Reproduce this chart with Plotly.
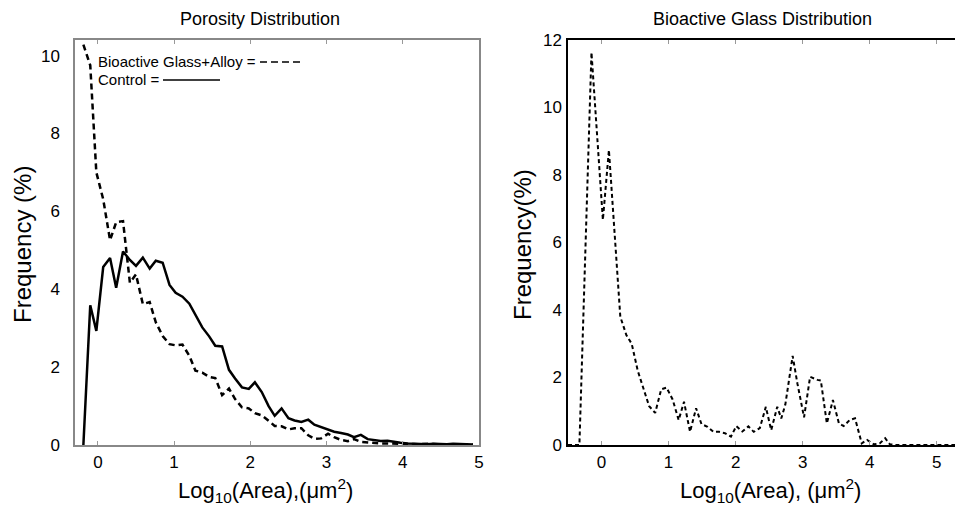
import plotly.graph_objects as go

# ---------------- data ----------------
log_area = [-0.19, -0.10, -0.02, 0.07, 0.16, 0.24, 0.33, 0.42, 0.50, 0.59,
            0.68, 0.76, 0.85, 0.94, 1.02, 1.11, 1.20, 1.28, 1.37, 1.46,
            1.54, 1.63, 1.72, 1.80, 1.89, 1.98, 2.06, 2.15, 2.24, 2.32,
            2.41, 2.50, 2.58, 2.67, 2.76, 2.84, 2.93, 3.02, 3.10, 3.19,
            3.28, 3.36, 3.45, 3.54, 3.62, 3.71, 3.80, 3.88, 3.97, 4.06,
            4.14, 4.23, 4.32, 4.40, 4.49, 4.58, 4.66, 4.75, 4.84, 4.92]

control = [0.00, 3.59, 2.93, 4.57, 4.80, 4.04, 4.97, 4.75, 4.60, 4.81,
           4.53, 4.73, 4.68, 4.11, 3.91, 3.81, 3.63, 3.33, 3.02, 2.79,
           2.55, 2.53, 1.93, 1.71, 1.48, 1.44, 1.61, 1.36, 1.00, 0.75,
           0.94, 0.69, 0.63, 0.59, 0.65, 0.52, 0.46, 0.38, 0.34, 0.31,
           0.27, 0.20, 0.26, 0.15, 0.12, 0.10, 0.11, 0.08, 0.06, 0.04,
           0.03, 0.03, 0.02, 0.03, 0.02, 0.02, 0.03, 0.02, 0.01, 0.01]

glass_alloy = [10.28, 9.75, 7.00, 6.31, 5.26, 5.72, 5.75, 4.17, 4.38, 3.62,
               3.67, 3.15, 2.80, 2.59, 2.56, 2.58, 2.29, 1.91, 1.86, 1.75,
               1.72, 1.28, 1.45, 1.18, 0.97, 0.94, 0.82, 0.76, 0.62, 0.49,
               0.48, 0.40, 0.43, 0.43, 0.25, 0.16, 0.17, 0.29, 0.20, 0.13,
               0.10, 0.15, 0.08, 0.06, 0.05, 0.04, 0.04, 0.03, 0.03, 0.03,
               0.02, 0.02, 0.03, 0.02, 0.02, 0.01, 0.02, 0.01, 0.01, 0.01]

glass_log_area = [-0.50, -0.42, -0.33, -0.15, -0.07, 0.02, 0.11, 0.20, 0.28, 0.37,
                  0.45, 0.54, 0.63, 0.71, 0.80, 0.89, 0.97, 1.06, 1.15, 1.23,
                  1.32, 1.41, 1.49, 1.58, 1.67, 1.75, 1.84, 1.93, 2.01, 2.10,
                  2.19, 2.27, 2.36, 2.45, 2.53, 2.62, 2.68, 2.74, 2.85, 2.92,
                  3.02, 3.11, 3.22, 3.27, 3.36, 3.45, 3.54, 3.61, 3.70, 3.78,
                  3.88, 3.96, 4.06, 4.15, 4.23, 4.30, 4.40, 4.60, 4.80, 5.00,
                  5.20, 5.40]

glass_freq = [0.00, 0.00, 0.00, 11.63, 9.40, 6.67, 8.74, 6.20, 3.80, 3.26,
              3.00, 2.20, 1.65, 1.15, 0.95, 1.65, 1.70, 1.35, 0.74, 1.28,
              0.39, 1.09, 0.62, 0.54, 0.39, 0.39, 0.35, 0.25, 0.56, 0.40,
              0.55, 0.39, 0.50, 1.13, 0.44, 1.13, 0.79, 1.19, 2.64, 1.83,
              0.82, 2.02, 1.93, 1.91, 0.64, 1.33, 0.64, 0.56, 0.74, 0.79,
              0.05, 0.15, 0.02, 0.05, 0.20, 0.02, 0.00, 0.00, 0.00, 0.00,
              0.00, 0.00]

x_ticks = [0, 1, 2, 3, 4, 5]
y_ticks_left = [0, 2, 4, 6, 8, 10]
y_ticks_right = [0, 2, 4, 6, 8, 10, 12]

# ---------------- figure ----------------
# the page body has an 8px margin, so the figure is 8px smaller each way
OFF = 8
W, H = 963 - OFF, 518 - OFF
FONT = "Liberation Sans, Arial, sans-serif"

fig = go.Figure()
fig.add_trace(go.Scatter(x=log_area, y=glass_alloy, mode="lines",
                         line=dict(color="black", width=2.5, dash="6px,4px"),
                         xaxis="x", yaxis="y", showlegend=False))
fig.add_trace(go.Scatter(x=log_area, y=control, mode="lines",
                         line=dict(color="black", width=2.5),
                         xaxis="x", yaxis="y", showlegend=False))
fig.add_trace(go.Scatter(x=glass_log_area, y=glass_freq, mode="lines",
                         line=dict(color="black", width=2, dash="4px,3px"),
                         xaxis="x2", yaxis="y2", showlegend=False))

def px2fx(px):
    """page pixel x -> paper fraction"""
    return (px - OFF) / W

def px2fy(py):
    """page pixel y -> paper fraction"""
    return 1 - (py - OFF) / H

top, bottom = 40, 445
ydom = [px2fy(bottom), px2fy(top)]

tickfont = dict(family=FONT, size=17, color="black")

fig.update_layout(
    template="none",
    width=W, height=H,
    margin=dict(l=0, r=0, t=0, b=0, pad=0, autoexpand=False),
    paper_bgcolor="white", plot_bgcolor="white",
    font=dict(family=FONT, color="black"),
    xaxis=dict(domain=[px2fx(75), px2fx(479)], range=[-0.3, 5.0], automargin=False,
               tickvals=x_ticks, ticks="inside", ticklen=4, tickcolor="#999",
               showline=True, linecolor="#888", linewidth=1.5, mirror="allticks",
               showgrid=False, zeroline=False, tickfont=tickfont,
               ticklabelstandoff=1),
    yaxis=dict(domain=ydom, range=[0, 10.4], tickvals=y_ticks_left, ticks="",
               automargin=False,
               showline=True, linecolor="#888", linewidth=1.5, mirror=True,
               showgrid=False, zeroline=False, tickfont=tickfont,
               ticklabelstandoff=10),
    xaxis2=dict(domain=[px2fx(568), 1.0], range=[-0.5, 5.39], anchor="y2",
                automargin=False,
                tickvals=x_ticks, ticks="inside", ticklen=4, tickcolor="#999",
                showline=True, linecolor="black", linewidth=1.5, mirror="allticks",
                showgrid=False, zeroline=False, tickfont=tickfont,
                ticklabelstandoff=1),
    yaxis2=dict(domain=ydom, range=[0, 12], tickvals=y_ticks_right, ticks="",
                anchor="x2", automargin=False,
                showline=True, linecolor="black", linewidth=1.5,
                mirror=False, showgrid=False, zeroline=False, tickfont=tickfont,
                ticklabelstandoff=1),
)

def note(text, x, y, size, angle=0, xanchor="center"):
    return dict(text=text, x=px2fx(x), y=px2fy(y), xref="paper", yref="paper",
                showarrow=False, xanchor=xanchor, yanchor="middle",
                textangle=angle, font=dict(family=FONT, size=size, color="black"))

ann = [
    note("Porosity Distribution", 260, 19, 18),
    note("Bioactive Glass Distribution", 762, 19, 18),
    note("Log<sub>10</sub>(Area),(\u03bcm<sup>2</sup>)", 265, 490, 22),
    note("Log<sub>10</sub>(Area), (\u03bcm<sup>2</sup>)", 770, 490, 22),
    note("Frequency (%)", 22, 245, 24, angle=-90),
    note("Frequency(%)", 522, 245, 24, angle=-90),
    note("Bioactive Glass+Alloy =", 96, 62, 15, xanchor="left"),
    note("Control =", 96, 80, 15, xanchor="left"),
]
fig.update_layout(annotations=ann)

fig.update_layout(shapes=[
    dict(type="line", xref="paper", yref="paper",
         x0=px2fx(260), x1=px2fx(301), y0=px2fy(62), y1=px2fy(62),
         line=dict(color="black", width=1.5, dash="7px,4px")),
    dict(type="line", xref="paper", yref="paper",
         x0=px2fx(163), x1=px2fx(220), y0=px2fy(80), y1=px2fy(80),
         line=dict(color="black", width=1.5)),
])

fig.write_html("out.html")
